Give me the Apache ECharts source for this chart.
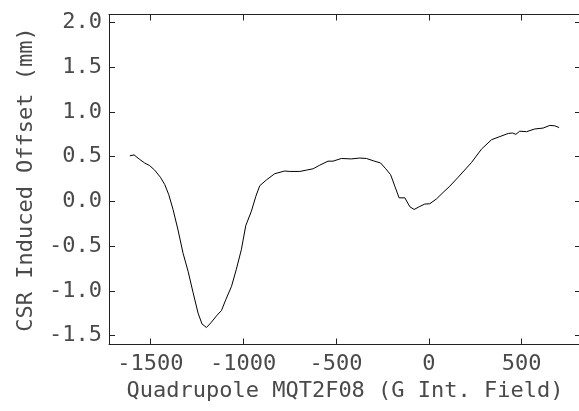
<!DOCTYPE html>
<html lang="en">
<head>
    <meta charset="UTF-8">
    <title>CSR Induced Offset</title>
    <script type="text/javascript" src="https://cdn.jsdelivr.net/npm/echarts@6/dist/echarts.min.js"></script>
    <style>
        html, body { margin: 0; padding: 0; background: #fff; }
    </style>
</head>
<body>
<div id="main" style="width: 579px;height: 411px"></div>

<script>
    // quadrupole field (G int. field) and measured offset (mm)
    var fieldValues = [-1611, -1588, -1558, -1531, -1504, -1477, -1446, -1423, -1401, -1378,
        -1351, -1324, -1297, -1270, -1243, -1222, -1198, -1171, -1144, -1117,
        -1094, -1063, -1037, -1010, -986, -956, -932, -911, -875, -830,
        -776, -749, -695, -659, -623, -588, -543, -516, -471, -417,
        -372, -336, -300, -260, -232, -206, -183, -160, -129, -102,
        -79, -52, -22, 5, 41, 77, 113, 158, 230, 284,
        338, 383, 428, 451, 469, 490, 527, 571, 616, 652, 679, 702];
    var offsetValues = [0.51, 0.52, 0.47, 0.43, 0.40, 0.35, 0.27, 0.19, 0.075, -0.09,
        -0.32, -0.58, -0.78, -1.02, -1.25, -1.37, -1.41, -1.35, -1.28, -1.22,
        -1.10, -0.95, -0.76, -0.54, -0.27, -0.11, 0.056, 0.175, 0.24, 0.31,
        0.34, 0.335, 0.335, 0.35, 0.365, 0.405, 0.45, 0.45, 0.48, 0.475,
        0.485, 0.48, 0.455, 0.43, 0.365, 0.30, 0.17, 0.04, 0.04, -0.06,
        -0.09, -0.06, -0.03, -0.026, 0.027, 0.10, 0.17, 0.27, 0.435, 0.585,
        0.69, 0.725, 0.76, 0.765, 0.75, 0.785, 0.78, 0.81, 0.82, 0.85, 0.845, 0.826];

    var xTicks = [-1500, -1000, -500, 0, 500];
    var yTicks = [-1.5, -1.0, -0.5, 0.0, 0.5, 1.0, 1.5, 2.0];

    var points = [];
    for (var i = 0; i < fieldValues.length; i++) {
        points.push([fieldValues[i], offsetValues[i]]);
    }

    var font = 'DejaVu Sans Mono';
    var textColor = '#4a4a4a';
    var lineColor = '#222';

    var chartDom = document.getElementById('main');
    var myChart = echarts.init(chartDom);
    var option;

    function xAxisOf(pos, showLabel) {
        return {
            type: 'value',
            position: pos,
            min: -1723,
            max: 820,
            splitLine: { show: false },
            axisLine: { show: true, onZero: false, lineStyle: { color: lineColor, width: 1 } },
            axisTick: { show: true, inside: true, length: 6, customValues: xTicks, lineStyle: { color: lineColor } },
            axisLabel: {
                show: showLabel,
                customValues: xTicks,
                margin: 9,
                fontFamily: font,
                fontSize: 22,
                color: textColor,
                formatter: function (v) { return String(v); }
            },
            name: showLabel ? 'Quadrupole MQT2F08 (G Int. Field)' : '',
            nameLocation: 'middle',
            nameGap: 24,
            nameTextStyle: { fontFamily: font, fontSize: 22, color: textColor }
        };
    }

    function yAxisOf(pos, showLabel) {
        return {
            type: 'value',
            position: pos,
            min: -1.6,
            max: 2.09,
            splitLine: { show: false },
            // right-hand border falls just outside the picture
            axisLine: { show: showLabel, onZero: false, lineStyle: { color: lineColor, width: 1 } },
            axisTick: { show: true, inside: true, length: 6, customValues: yTicks, lineStyle: { color: lineColor } },
            axisLabel: {
                show: showLabel,
                customValues: yTicks,
                margin: 7,
                fontFamily: font,
                fontSize: 22,
                color: textColor,
                formatter: function (v) { return v.toFixed(1); }
            },
            name: showLabel ? 'CSR Induced Offset (mm)' : '',
            nameLocation: 'middle',
            nameGap: 72,
            nameTextStyle: { fontFamily: font, fontSize: 22, color: textColor }
        };
    }

    option = {
        backgroundColor: '#fff',
        animation: false,
        grid: {
            left: 109,
            top: 14.5,
            width: 472,
            height: 330,
            outerBoundsMode: 'none'
        },
        xAxis: [xAxisOf('bottom', true), xAxisOf('top', false)],
        yAxis: [yAxisOf('left', true), yAxisOf('right', false)],
        series: [
            {
                type: 'line',
                data: points,
                showSymbol: false,
                smooth: false,
                lineStyle: { color: '#000', width: 1 }
            }
        ]
    };

    myChart.setOption(option);
</script>
</body>
</html>
